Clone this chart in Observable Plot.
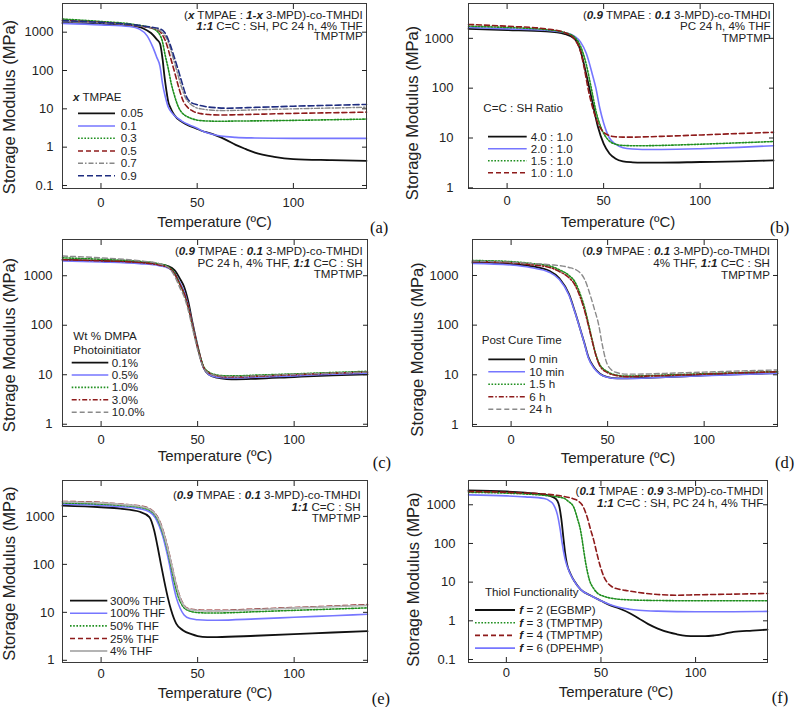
<!DOCTYPE html>
<html><head><meta charset="utf-8">
<script src="https://cdn.jsdelivr.net/npm/d3@7"></script>
<script src="https://cdn.jsdelivr.net/npm/@observablehq/plot@0.6"></script>
<style>
body{margin:0;background:#fff;}
#fig{position:relative;width:800px;height:707px;overflow:hidden;font-family:"Liberation Sans",Arial,sans-serif;color:#222;}
.t{position:absolute;white-space:nowrap;line-height:0.9;}
</style></head><body><div id="fig"></div>
<script>
// ---------- shared axis values ----------
const TEMP_DOMAIN = [-20, 138];
const X_TICKS = [0, 50, 100];
const Y_TICKS_WIDE = [0.1, 1, 10, 100, 1000];
const Y_TICKS_NARROW = [1, 10, 100, 1000];

// ---------- (a) x TMPAE : [temperature °C, E' MPa] ----------
const a_005 = [[-20,1750],[0,1650],[15,1500],[22,1250],[26,950],[29,650],[30.7,500],[32,200],[33,70],[34,30],[35,15],[36,11],[38,7],[42,4.6],[46,3.6],[50,3.0],[53,2.6],[56,2.35],[60,2.0],[65,1.55],[70,1.15],[75,0.9],[80,0.72],[90,0.56],[100,0.49],[120,0.46],[138,0.44]];
const a_01 = [[-20,1700],[0,1550],[15,1400],[20,1200],[24,800],[27,400],[29,220],[30.7,127],[32,45],[33.5,20],[35,11],[36,9],[38,6.8],[42,4.8],[46,3.8],[50,3.1],[53,2.6],[56,2.3],[60,2.05],[65,1.88],[70,1.8],[80,1.74],[100,1.7],[138,1.7]];
const a_03 = [[-20,2200],[0,1900],[15,1650],[22,1450],[26,1300],[30,950],[32,550],[33.3,260],[35,110],[36.5,46],[38,24],[40.3,11],[42,8],[44,6.6],[47,5.6],[51,5.0],[56,4.8],[62,4.75],[70,4.8],[80,4.85],[100,5.0],[120,5.2],[138,5.4]];
const a_05 = [[-20,2000],[0,1800],[15,1550],[22,1400],[26,1300],[30,1100],[32,850],[34.2,470],[36,230],[38.5,82],[40.5,35],[43,15],[45,11],[48,8.6],[52,7.5],[56,7.1],[62,6.9],[70,7.0],[80,7.2],[100,7.6],[120,7.9],[138,8.2]];
const a_07 = [[-20,1900],[0,1750],[15,1550],[22,1400],[26,1300],[30,1150],[33,850],[35,550],[37,260],[39.5,95],[42,35],[44,19],[46,14],[49,11],[53,9.8],[58,9.2],[64,9.0],[70,9.1],[80,9.4],[100,10],[120,10.5],[138,11]];
const a_09 = [[-20,2000],[0,1800],[15,1600],[22,1450],[26,1350],[30,1250],[33,1000],[35.9,480],[38,230],[40,110],[42,50],[44.6,20],[47,14.5],[50,12.8],[55,11.3],[60,10.7],[65,10.4],[70,10.5],[80,10.9],[100,11.7],[120,12.4],[138,13]];

// ---------- (b) C=C : SH ratio ----------
const b_40 = [[-20,1550],[0,1470],[20,1380],[30,1220],[35,970],[38,570],[41,190],[44,57],[47,17],[50,7.7],[53,4.9],[56,3.9],[60,3.4],[65,3.25],[70,3.2],[80,3.2],[100,3.3],[120,3.4],[138,3.55]];
const b_20 = [[-20,1650],[0,1550],[20,1450],[30,1300],[35,1100],[38,850],[41,500],[44,200],[46,100],[48,40],[50,20],[53,10],[56,7.6],[60,6.4],[65,6.0],[70,5.9],[80,5.9],[100,6.1],[120,6.5],[138,7.0]];
const b_15 = [[-20,1750],[0,1650],[20,1500],[30,1300],[35,1050],[38,700],[41,300],[43.6,100],[46,35],[49,15],[52,9.5],[55,7.8],[60,7.1],[65,7.0],[70,7.0],[80,7.1],[100,7.5],[120,8.0],[138,8.5]];
const b_10 = [[-20,1900],[0,1750],[20,1550],[30,1300],[35,950],[38,550],[40,250],[41.9,100],[44,45],[47,20],[50,13],[53,11.2],[56,10.6],[60,10.4],[65,10.4],[70,10.5],[80,10.8],[100,11.5],[120,12.3],[138,13]];

// ---------- (c) wt % DMPA ----------
const c_01 = [[-20,2100],[0,2000],[20,1850],[30,1700],[35,1550],[38,1300],[41,850],[43,600],[45,320],[47.4,110],[50,38],[53,14],[56,10],[60,8.7],[65,8.2],[70,8.1],[80,8.3],[100,9.0],[120,9.7],[138,10.2]];
const c_05 = [[-20,2000],[0,1900],[20,1750],[30,1600],[35,1420],[38,1150],[41,700],[43,480],[45,260],[47.4,100],[50,36],[53,14],[56,10],[60,8.9],[65,8.6],[70,8.6],[80,8.9],[100,9.5],[120,10.3],[138,10.8]];
const c_10 = [[-20,2300],[0,2150],[20,1950],[30,1750],[35,1500],[38,1150],[41,650],[43,430],[45,240],[47.4,95],[50,36],[53,15],[56,11.2],[60,9.9],[65,9.5],[70,9.5],[80,9.8],[100,10.4],[120,11.1],[138,11.7]];
const c_30 = [[-20,2100],[0,2000],[20,1850],[30,1650],[35,1450],[38,1100],[41,650],[43,440],[45,250],[47.4,97],[50,36],[53,14.5],[56,10.8],[60,9.5],[65,9.0],[70,9.0],[80,9.3],[100,10],[120,10.7],[138,11.3]];
const c_100 = [[-20,2500],[0,2300],[20,2000],[30,1750],[35,1450],[38,1000],[41,550],[43,380],[45,210],[47.4,85],[50,32],[53,14],[56,10.6],[60,9.6],[65,9.2],[70,9.2],[80,9.5],[100,10.2],[120,10.8],[138,11.3]];

// ---------- (d) post cure time ----------
const d_0m = [[-20,1830],[0,1700],[10,1550],[20,1230],[25,880],[30,420],[33,190],[35.2,100],[38,43],[40,23],[43,14],[46,10.5],[50,9.0],[55,8.5],[60,8.5],[70,8.7],[80,9.0],[100,9.7],[120,10.3],[138,10.8]];
const d_10m = [[-20,1750],[0,1620],[10,1450],[20,1150],[25,830],[30,400],[33,185],[35.2,98],[38,42],[40,22],[43,13.5],[46,10.3],[50,8.9],[55,8.4],[60,8.4],[70,8.6],[80,8.9],[100,9.6],[120,10.2],[138,10.7]];
const d_15h = [[-20,2000],[0,1900],[10,1750],[20,1550],[25,1300],[30,1000],[33,750],[36,400],[38,230],[40,110],[42,50],[44,25],[46,16],[50,11.5],[55,9.8],[60,9.4],[70,9.6],[80,9.9],[100,10.5],[120,11.1],[138,11.6]];
const d_6h = [[-20,1900],[0,1800],[10,1650],[20,1450],[25,1200],[30,900],[33,650],[36,350],[38,200],[40,100],[42,48],[44,24],[46,15],[50,11],[55,9.6],[60,9.2],[70,9.4],[80,9.7],[100,10.3],[120,11],[138,11.5]];
const d_24h = [[-20,1950],[0,1850],[10,1750],[20,1650],[30,1450],[35,1200],[38,850],[41,400],[43,220],[45.4,100],[47,45],[49,20],[52,12.5],[55,11],[60,10.3],[70,10.4],[80,10.7],[100,11.3],[120,12],[138,12.5]];

// ---------- (e) THF content ----------
const e_300 = [[-20,1670],[0,1550],[10,1450],[20,1250],[25,970],[27.5,510],[29.3,230],[31,100],[32.8,43],[34.6,20],[36.3,11],[38.9,5.8],[42.5,4.2],[46.8,3.5],[50,3.2],[55,3.05],[60,3.05],[80,3.25],[100,3.5],[120,3.8],[138,4.05]];
const e_100 = [[-20,1800],[0,1700],[10,1600],[20,1450],[25,1250],[28,950],[30,650],[32,380],[33.5,220],[35.4,100],[37,45],[39,20],[41,12],[43,8.8],[46,7.4],[50,7.0],[55,6.85],[60,6.85],[80,7.3],[100,7.9],[120,8.5],[138,9.1]];
const e_50 = [[-20,1900],[0,1800],[10,1700],[20,1550],[25,1350],[28,1050],[30,750],[32,450],[34,230],[36,100],[38,42],[40,21],[42,14],[45,11],[50,9.9],[55,9.7],[60,9.7],[80,10.3],[100,11],[120,11.7],[138,12.4]];
const e_25 = [[-20,2050],[0,1950],[10,1800],[20,1650],[25,1450],[28,1150],[30,850],[32,520],[34,270],[36.5,100],[38.5,45],[40.5,23],[42.5,15],[45,12],[50,11.2],[55,11],[60,11],[80,11.7],[100,12.6],[120,13.5],[138,14.5]];
const e_4 = [[-20,2000],[0,1900],[10,1780],[20,1620],[25,1420],[28,1120],[30,830],[32,500],[34,260],[36.5,98],[38.5,44],[40.5,22],[42.5,14.5],[45,11.7],[50,10.9],[55,10.7],[60,10.7],[80,11.4],[100,12.3],[120,13.2],[138,14]];

// ---------- (f) thiol functionality ----------
const f_2 = [[-20,2350],[0,2200],[10,2050],[20,1850],[25,1550],[27,1250],[28,900],[29,450],[30.3,120],[31,60],[32,30],[34,16],[36,10.5],[39.2,6.5],[45,4.4],[50,3.3],[55,2.5],[60,2.05],[65,1.6],[70,1.15],[75,0.82],[80,0.63],[86,0.5],[90,0.45],[95,0.41],[100,0.40],[105,0.40],[110,0.42],[115,0.46],[120,0.52],[130,0.56],[138,0.59]];
const f_3 = [[-20,2100],[0,2000],[10,1900],[20,1750],[30,1500],[33,1200],[35.6,870],[37.5,450],[39.2,218],[40,130],[41,60],[42,30],[44,11],[46,7],[48,5.3],[51.5,4.3],[56,3.8],[63.8,3.5],[80,3.35],[100,3.3],[120,3.3],[138,3.3]];
const f_4 = [[-20,2200],[0,2100],[10,2000],[20,1900],[30,1650],[35,1450],[38,1250],[40,1000],[42.7,480],[44.5,230],[46.2,120],[47.5,65],[49.7,25],[51.5,14],[53.2,10],[56,7.5],[60,6.5],[64,6.0],[70,5.4],[80,4.8],[90,4.6],[100,4.7],[120,4.9],[138,5.1]];
const f_6 = [[-20,1800],[0,1700],[10,1600],[20,1450],[23,1250],[25,1000],[27,550],[28.5,220],[29.5,100],[31,40],[33,20],[35,12.5],[39.2,6.5],[45,4.4],[50,3.3],[55,2.6],[60,2.2],[65,2.0],[70,1.88],[80,1.78],[100,1.72],[120,1.72],[138,1.75]];

// ---------- line styles ----------
const STYLES = {
  black:   {color:"#111111", width:1.8, dash:null},
  blue:    {color:"#7676ff", width:1.6, dash:null},
  green:   {color:"#1f8f1f", width:1.6, dash:"1.6,1.6"},
  red:     {color:"#8e1b1b", width:1.6, dash:"5,3"},
  reddot:  {color:"#8e1b1b", width:1.6, dash:"5,2,1.5,2"},
  graydot: {color:"#888888", width:1.4, dash:"5,2,1.5,2"},
  navy:    {color:"#1f2d80", width:1.6, dash:"6,3"},
  graydash:{color:"#8a8a8a", width:1.4, dash:"5,3"},
  lightgray:{color:"#b4b4b4", width:1.8, dash:null}
};

const B = s => `<b><i>${s}</i></b>`;

const panels = [
  {left:0, top:0, width:400, height:236, m:[3,34,48,62], yDomain:[0.0835,5600], yTicks:Y_TICKS_WIDE,
   yPad:14, xPad:9, yTitle:[-52.5,11], xTitle:[0,34],
   series:[["0.05",a_005,"black"],["0.1",a_01,"blue"],["0.3",a_03,"green"],["0.5",a_05,"red"],["0.7",a_07,"graydot"],["0.9",a_09,"navy"]],
   ann:{right:362.7, ys:[14.6,25.6,36.4], lines:[`(${B("x")} TMPAE : ${B("1-x")} 3-MPD)-co-TMHDI`, `${B("1:1")} C=C : SH, PC 24 h, 4% THF`, "TMPTMP"]},
   leg:{head:[`${B("x")} TMPAE`], hx:73, hy:[96.7], x1:78, x2:115, tx:120.7, ys:[113.3,126,138.3,151,163.3,175.7]},
   letter:["(a)",370,228]},
  {left:400, top:0, width:400, height:236, m:[3,27,48,68], yDomain:[0.97,5000], yTicks:Y_TICKS_NARROW,
   yPad:20, xPad:7.5, yTitle:[-56,17], xTitle:[-3,34],
   series:[["4.0 : 1.0",b_40,"black"],["2.0 : 1.0",b_20,"blue"],["1.5 : 1.0",b_15,"green"],["1.0 : 1.0",b_10,"red"]],
   ann:{right:770.7, ys:[15,26.4,37.8], lines:[`(${B("0.9")} TMPAE : ${B("0.1")} 3-MPD)-co-TMHDI`, "PC 24 h, 4% THF", "TMPTMP"]},
   leg:{head:["C=C : SH Ratio"], hx:483.3, hy:[108.3], x1:488, x2:526.7, tx:530.7, ys:[136.7,148.7,160.7,172.7]},
   letter:["(b)",770,228]},
  {left:0, top:236, width:400, height:236, m:[3,33,46,62], yDomain:[0.9,5400], yTicks:Y_TICKS_NARROW,
   yPad:15, xPad:8, yTitle:[-52.5,12], xTitle:[0,30],
   series:[["0.1%",c_01,"black"],["0.5%",c_05,"blue"],["1.0%",c_10,"green"],["3.0%",c_30,"reddot"],["10.0%",c_100,"graydash"]],
   ann:{right:362.7, ys:[251,262.5,274], lines:[`(${B("0.9")} TMPAE : ${B("0.1")} 3-MPD)-co-TMHDI`, `PC 24 h, 4% THF, ${B("1:1")} C=C : SH`, "TMPTMP"]},
   leg:{head:["Wt % DMPA","Photoinitiator"], hx:73.3, hy:[336,350.3], x1:71.7, x2:108.3, tx:111.7, ys:[362.7,375,387.4,399.8,412.2]},
   letter:["(c)",372.7,462.7]},
  {left:400, top:236, width:400, height:236, m:[3,23,46,72], yDomain:[0.91,5300], yTicks:Y_TICKS_NARROW,
   yPad:19, xPad:8.6, yTitle:[-55,16.5], xTitle:[-7,31.7],
   series:[["0 min",d_0m,"black"],["10 min",d_10m,"blue"],["1.5 h",d_15h,"green"],["6 h",d_6h,"reddot"],["24 h",d_24h,"graydash"]],
   ann:{right:770, ys:[251,263,275], lines:[`(${B("0.9")} TMPAE : ${B("0.1")} 3-MPD)-co-TMHDI`, `4% THF, ${B("1:1")} C=C : SH`, "TMPTMP"]},
   leg:{head:["Post Cure Time"], hx:481.7, hy:[340.3], x1:488.3, x2:525, tx:529.3, ys:[359.3,371.8,384.3,396.8,409.3]},
   letter:["(d)",775,462.7]},
  {left:0, top:470, width:400, height:237, m:[10,33,45,62], yDomain:[0.9,5600], yTicks:Y_TICKS_NARROW,
   yPad:13, xPad:6.3, yTitle:[-52.5,2], xTitle:[0,31],
   series:[["300% THF",e_300,"black"],["100% THF",e_100,"blue"],["50% THF",e_50,"green"],["25% THF",e_25,"red"],["4% THF",e_4,"lightgray"]],
   ann:{right:360.7, ys:[495,506.7,518.3], lines:[`(${B("0.9")} TMPAE : ${B("0.1")} 3-MPD)-co-TMHDI`, `${B("1:1")} C=C : SH`, "TMPTMP"]},
   leg:{head:[], hx:0, hy:[], x1:70, x2:107.3, tx:110, ys:[600.7,613.3,625.9,638.5,651]},
   letter:["(e)",371.7,699.3]},
  {left:400, top:470, width:400, height:237, m:[10,33,45,68], yDomain:[0.0837,4240], yTicks:Y_TICKS_WIDE,
   yPad:18, xPad:5, yTitle:[-55,8], xTitle:[-2,29.7],
   series:[[`${B("f")} = 2 (EGBMP)`,f_2,"black"],[`${B("f")} = 3 (TMPTMP)`,f_3,"green"],[`${B("f")} = 4 (TMPTMP)`,f_4,"red"],[`${B("f")} = 6 (DPEHMP)`,f_6,"blue"]],
   ann:{right:763.3, ys:[490.7,503.3], lines:[`(${B("0.1")} TMPAE : ${B("0.9")} 3-MPD)-co-TMHDI`, `${B("1:1")} C=C : SH, PC 24 h, 4% THF`]},
   leg:{head:["Thiol Functionality"], hx:485, hy:[591.7], x1:475, x2:515, tx:519.3, ys:[610,622.7,635.4,648.1]},
   letter:["(f)",771.7,698.3]}
];

const fig = document.getElementById("fig");

function addText(html, x, y, {anchor="start", size=11.6, family=null, color="#222"} = {}) {
  const d = document.createElement("div");
  d.className = "t";
  d.innerHTML = html;
  d.style.left = x + "px";
  d.style.top = y + "px";
  d.style.fontSize = size + "px";
  d.style.color = color;
  if (family) d.style.fontFamily = family;
  d.style.transform = anchor === "end" ? "translate(-100%,-50%)" : "translate(0,-50%)";
  fig.appendChild(d);
}

const legendSvg = d3.create("svg").attr("width", 800).attr("height", 707)
  .style("position","absolute").style("left","0px").style("top","0px").style("pointer-events","none");

for (const p of panels) {
  const [mT, mR, mB, mL] = p.m;
  const marks = [];
  for (const [name, pts, st] of p.series) {
    const s = STYLES[st];
    marks.push(Plot.line(pts, {x: d => d[0], y: d => d[1], stroke: s.color, strokeWidth: s.width,
      strokeDasharray: s.dash, curve: "monotone-x"}));
  }
  marks.push(Plot.frame({stroke: "#3a3a3a", strokeWidth: 1}));
  marks.push(Plot.axisX({anchor:"bottom", ticks: X_TICKS, tickSize: -5, tickPadding: 5 + p.xPad, tickFormat: d => String(d), label: null, fontSize: 13}));
  marks.push(Plot.axisX({anchor:"top", ticks: X_TICKS, tickSize: -5, tickFormat: () => "", label: null}));
  marks.push(Plot.axisY({anchor:"left", ticks: p.yTicks, tickSize: -5, tickPadding: p.yPad, tickFormat: d => String(d), label: null, fontSize: 13}));
  marks.push(Plot.axisY({anchor:"right", ticks: p.yTicks, tickSize: -5, tickFormat: () => "", label: null}));
  marks.push(Plot.text(["Storage Modulus (MPa)"], {frameAnchor: "left", textAnchor: "middle", lineAnchor: "middle", rotate: -90, dx: p.yTitle[0], dy: p.yTitle[1], fontSize: 16.5}));
  marks.push(Plot.text(["Temperature (ºC)"], {frameAnchor: "bottom", textAnchor: "middle", lineAnchor: "middle", dx: p.xTitle[0], dy: p.xTitle[1], fontSize: 15}));

  const svg = Plot.plot({
    width: p.width, height: p.height,
    marginTop: mT, marginRight: mR, marginBottom: mB, marginLeft: mL,
    x: {type: "linear", domain: TEMP_DOMAIN},
    y: {type: "log", domain: p.yDomain},
    style: {fontFamily: '"Liberation Sans", Arial, sans-serif', fontSize: "13px", color: "#222", background: "transparent", overflow: "visible"},
    marks
  });
  svg.style.position = "absolute";
  svg.style.left = p.left + "px";
  svg.style.top = p.top + "px";
  fig.appendChild(svg);

  // annotation block (top right)
  p.ann.lines.forEach((ln, i) => addText(ln, p.ann.right, p.ann.ys[i], {anchor: "end", size: 11.6}));
  // legend header
  p.leg.head.forEach((h, i) => addText(h, p.leg.hx, p.leg.hy[i], {size: 11.6}));
  // legend entries
  p.series.forEach(([name, pts, st], i) => {
    const s = STYLES[st];
    const y = p.leg.ys[i];
    legendSvg.append("line").attr("x1", p.leg.x1).attr("x2", p.leg.x2).attr("y1", y).attr("y2", y)
      .attr("stroke", s.color).attr("stroke-width", s.width).attr("stroke-dasharray", s.dash);
    addText(name, p.leg.tx, y, {size: 11.6});
  });
  // panel letter
  addText(p.letter[0], p.letter[1], p.letter[2], {size: 16.5, family: '"Liberation Serif", "Times New Roman", serif', color: "#111"});
}
fig.appendChild(legendSvg.node());
</script>
</body></html>
